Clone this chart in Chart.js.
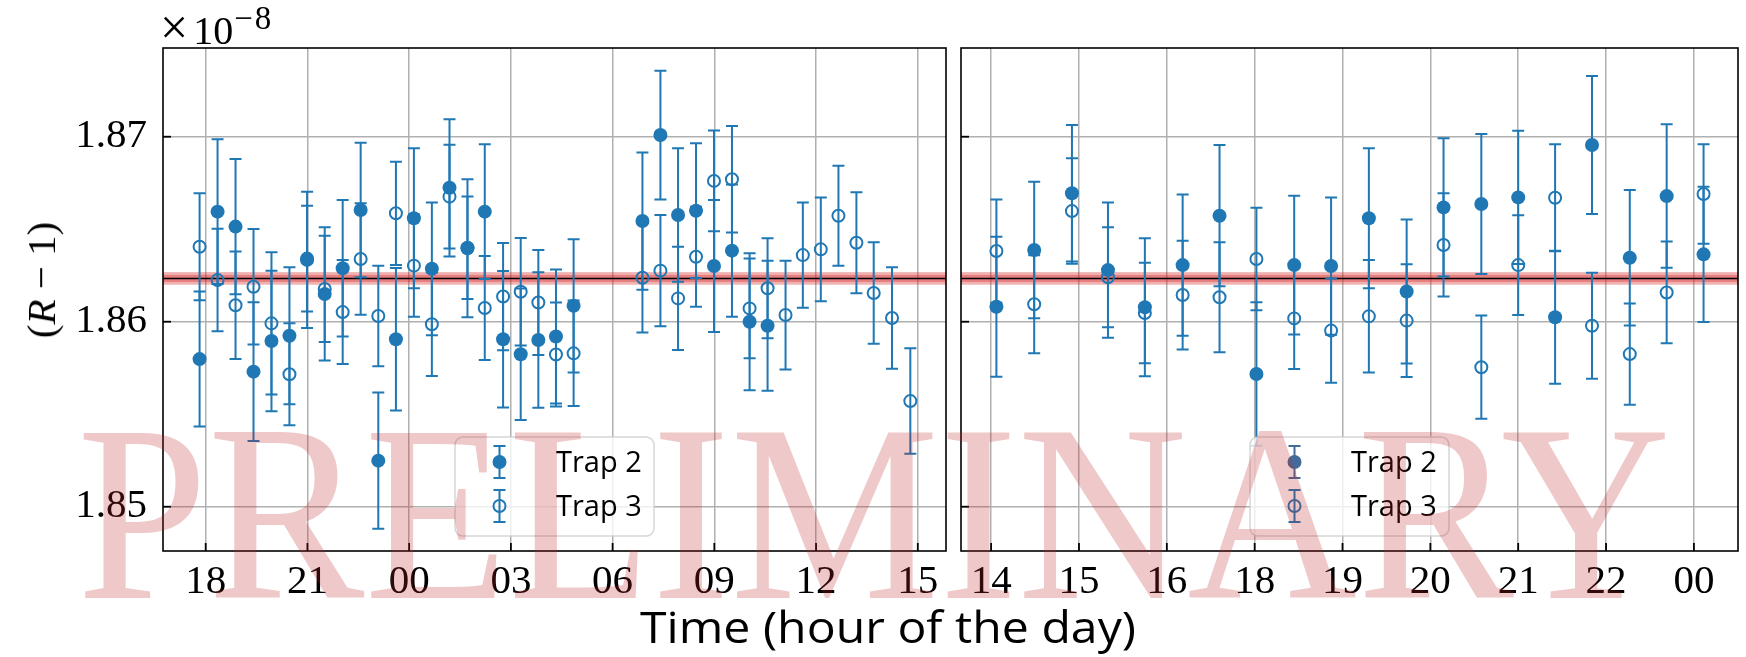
<!DOCTYPE html>
<html>
<head>
<meta charset="utf-8">
<script src="https://cdn.jsdelivr.net/npm/chart.js@4.4.1/dist/chart.umd.min.js"></script>
<style>
  html, body { margin: 0; padding: 0; background: #fff; }
  #wrap { position: relative; width: 1746px; height: 657px; overflow: hidden; }
  canvas { position: absolute; top: 0; }
  #left { left: 0; }
  #right { left: 953px; }
  .txt { position: absolute; left: 0; top: 0; white-space: nowrap; color: #000; line-height: 1; transform-origin: 0 0; }
  #mult { font: 40px 'Liberation Serif'; }
  #mult .x { font-size: 50px; margin-right: 5px; margin-left: -3px; }
  #mult sup { font-size: 33px; vertical-align: baseline; position: relative; top: -15px; margin-left: 1px; letter-spacing: 2px; }
  #ytitle { left: 41px; top: 280px; font: 41px 'Liberation Serif';
            transform: translate(-50%, -50%) rotate(-90deg); transform-origin: 50% 50%; }
  #xtitle { font: 44px 'Open Sans'; }
  #wm { font-family: 'Liberation Serif'; color: rgba(190, 40, 40, 0.25); z-index: 10; pointer-events: none; }
</style>
</head>
<body>
<div id="wrap">
  <canvas id="left" width="954" height="657"></canvas>
  <canvas id="right" width="793" height="657"></canvas>
  <div class="txt" id="mult"><span class="x">&times;</span>10<sup>&minus;8</sup></div>
  <div class="txt" id="ytitle">(<i>R</i> &minus; 1)</div>
  <div class="txt" id="xtitle">Time (hour of the day)</div>
  <div class="txt" id="wm">PRELIMINARY</div>
</div>
<script>
// left panel: hours since midnight of the first day (values > 24 are the next day)
var leftHours = [17.82, 18.35, 18.88, 19.41, 19.94, 20.47, 20.99, 21.51, 22.04, 22.57,
  23.09, 23.61, 24.14, 24.67, 25.19, 25.72, 26.23, 26.77, 27.29, 27.81,
  28.33, 28.85, 30.88, 31.41, 31.93, 32.46, 32.99, 33.52, 34.04, 34.57,
  35.10, 35.61, 36.14, 36.66, 37.19, 37.70, 38.24, 38.78];
var leftTrap2 = [1.85798, 1.86595, 1.86514, 1.85730, 1.85896, 1.85924, 1.86334, 1.86150, 1.86289, 1.86604,
  1.85249, 1.85905, 1.86559, 1.86286, 1.86724, 1.86397, 1.86595, 1.85905, 1.85824, 1.85901,
  1.85920, 1.86086, 1.86544, 1.87009, 1.86577, 1.86600, 1.86301, 1.86384, 1.86000, 1.85978,
  null, null, null, null, null, null, null, null];
var leftTrap2Err = [0.00365, 0.00391, 0.00366, 0.00375, 0.00380, 0.00370, 0.00368, 0.00360, 0.00369, 0.00364,
  0.00368, 0.00385, 0.00378, 0.00359, 0.00371, 0.00373, 0.00364, 0.00369, 0.00355, 0.00366,
  0.00362, 0.00360, 0.00371, 0.00348, 0.00361, 0.00364, 0.00357, 0.00357, 0.00370, 0.00351,
  null, null, null, null, null, null, null, null];
var leftTrap3 = [1.86405, 1.86225, 1.86089, 1.86189, 1.85991, 1.85716, 1.86341, 1.86177, 1.86052, 1.86339,
  1.86031, 1.86586, 1.86303, 1.85986, 1.86676, 1.86400, 1.86074, 1.86136, 1.86162, 1.86104,
  1.85823, 1.85829, 1.86238, 1.86276, 1.86126, 1.86351, 1.86761, 1.86770, 1.86072, 1.86181,
  1.86036, 1.86360, 1.86391, 1.86573, 1.86427, 1.86155, 1.86020, 1.85571];
var leftTrap3Err = [0.00289, 0.00277, 0.00290, 0.00312, 0.00384, 0.00276, 0.00286, 0.00287, 0.00281, 0.00301,
  0.00272, 0.00279, 0.00276, 0.00280, 0.00280, 0.00277, 0.00281, 0.00290, 0.00290, 0.00284,
  0.00281, 0.00285, 0.00296, 0.00301, 0.00279, 0.00270, 0.00272, 0.00288, 0.00270, 0.00270,
  0.00294, 0.00285, 0.00281, 0.00270, 0.00273, 0.00274, 0.00274, 0.00285];
var leftTickHours = [18, 21, 24, 27, 30, 33, 36, 39];
var leftTickLabels = ['18', '21', '00', '03', '06', '09', '12', '15'];

// right panel: positions counted in tick slots
var rightPos = [0.06, 0.49, 0.92, 1.33, 1.75, 2.18, 2.60, 3.02, 3.45, 3.87,
  4.30, 4.73, 5.15, 5.58, 6.00, 6.42, 6.84, 7.27, 7.69, 8.11];
var rightTrap2 = [1.86081, 1.86388, 1.86694, 1.86279, 1.86078, 1.86306, 1.86573, 1.85717, 1.86306, 1.86301,
  1.86559, 1.86163, 1.86618, 1.86636, 1.86672, 1.86024, 1.86955, 1.86346, 1.86679, 1.86364];
var rightTrap2Err = [0.00378, 0.00369, 0.00369, 0.00366, 0.00373, 0.00382, 0.00382, 0.00388, 0.00375, 0.00371,
  0.00378, 0.00389, 0.00373, 0.00378, 0.00360, 0.00360, 0.00373, 0.00366, 0.00388, 0.00365];
var rightTrap3 = [1.86382, 1.86094, 1.86598, 1.86240, 1.86047, 1.86144, 1.86132, 1.86339, 1.86018, 1.85952,
  1.86029, 1.86006, 1.86415, 1.85754, 1.86306, 1.86670, 1.85978, 1.85825, 1.86158, 1.86690];
var rightTrap3Err = [0.00279, 0.00265, 0.00285, 0.00270, 0.00272, 0.00294, 0.00297, 0.00277, 0.00274, 0.00282,
  0.00304, 0.00305, 0.00279, 0.00279, 0.00270, 0.00289, 0.00286, 0.00274, 0.00275, 0.00269];
var rightTickPos = [0, 1, 2, 3, 4, 5, 6, 7, 8];
var rightTickLabels = ['14', '15', '16', '18', '19', '20', '21', '22', '00'];

var yTicks = [1.85, 1.86, 1.87];
var refValue = 1.86234;
var refBandOuter = 0.00034;
var refBandInner = 0.00019;

var blue = '#1f77b4';

function pack(xs, ys, errs) {
  var data = [], errors = [];
  xs.forEach(function(x, i) {
    if (ys[i] !== null) {
      data.push({x: x, y: ys[i]});
      errors.push(errs[i]);
    }
  });
  return {data: data, errors: errors};
}

function drawErrMarker(ctx, x, y, filled, clr) {
  ctx.strokeStyle = clr;
  ctx.lineWidth = 2;
  ctx.beginPath();
  ctx.moveTo(x, y - 16); ctx.lineTo(x, y + 16);
  ctx.moveTo(x - 6, y - 16); ctx.lineTo(x + 6, y - 16);
  ctx.moveTo(x - 6, y + 16); ctx.lineTo(x + 6, y + 16);
  ctx.stroke();
  ctx.beginPath();
  if (filled) {
    ctx.fillStyle = clr;
    ctx.arc(x, y, 7, 0, Math.PI * 2);
    ctx.fill();
  } else {
    ctx.arc(x, y, 6, 0, Math.PI * 2);
    ctx.stroke();
  }
}

var panelPlugin = {
  id: 'panel',
  beforeDatasetsDraw: function(chart) {
    var ctx = chart.ctx, a = chart.chartArea, y = chart.scales.y;
    ctx.save();
    ctx.fillStyle = 'rgba(214, 39, 40, 0.36)';
    [refBandOuter, refBandInner].forEach(function(w) {
      var t = y.getPixelForValue(refValue + w), b = y.getPixelForValue(refValue - w);
      ctx.fillRect(a.left, t, a.right - a.left, b - t);
    });
    var yr = y.getPixelForValue(refValue);
    ctx.strokeStyle = '#000';
    ctx.lineWidth = 1.5;
    ctx.beginPath();
    ctx.moveTo(a.left, yr); ctx.lineTo(a.right, yr);
    ctx.stroke();
    ctx.restore();
  },
  beforeDatasetDraw: function(chart, args) {
    var ds = chart.data.datasets[args.index];
    if (!ds.errors) return;
    var ctx = chart.ctx, x = chart.scales.x, y = chart.scales.y;
    ctx.save();
    ctx.strokeStyle = blue;
    ctx.lineWidth = 2;
    ds.data.forEach(function(p, i) {
      var px = x.getPixelForValue(p.x);
      var top = y.getPixelForValue(p.y + ds.errors[i]);
      var bot = y.getPixelForValue(p.y - ds.errors[i]);
      ctx.beginPath();
      ctx.moveTo(px, top); ctx.lineTo(px, bot);
      ctx.moveTo(px - 6, top); ctx.lineTo(px + 6, top);
      ctx.moveTo(px - 6, bot); ctx.lineTo(px + 6, bot);
      ctx.stroke();
    });
    ctx.restore();
  },
  afterDatasetsDraw: function(chart) {
    // legend box, lower centre
    var ctx = chart.ctx, a = chart.chartArea;
    var w = 199, h = 99;
    var x0 = (a.left + a.right) / 2 - w / 2, y0 = a.bottom - 15 - h;
    // the right-hand legend has its filled marker a shade darker in the original
    var trap2Clr = chart.canvas.id === 'right' ? '#446a99' : blue;
    ctx.save();
    ctx.beginPath();
    ctx.roundRect(x0, y0, w, h, 8);
    ctx.fillStyle = 'rgba(255, 255, 255, 0.8)';
    ctx.fill();
    ctx.strokeStyle = 'rgba(204, 204, 204, 0.8)';
    ctx.lineWidth = 1.5;
    ctx.stroke();
    chart.data.datasets.forEach(function(ds, i) {
      var ry = y0 + 25 + i * 44;
      drawErrMarker(ctx, x0 + 44.5, ry, i === 0, i === 0 ? trap2Clr : blue);
      ctx.fillStyle = '#000';
      ctx.font = '29px "Open Sans"';
      ctx.textBaseline = 'alphabetic';
      ctx.fillText(ds.label, x0 + 101, ry + 10);
    });
    ctx.restore();
  },
  afterDraw: function(chart) {
    // frame and inward ticks
    var ctx = chart.ctx, a = chart.chartArea;
    ctx.save();
    ctx.strokeStyle = '#000';
    ctx.lineWidth = 1.8;
    chart.scales.x.ticks.forEach(function(t) {
      var px = chart.scales.x.getPixelForValue(t.value);
      ctx.beginPath();
      ctx.moveTo(px, a.bottom); ctx.lineTo(px, a.bottom - 8);
      ctx.stroke();
    });
    chart.scales.y.ticks.forEach(function(t) {
      var py = chart.scales.y.getPixelForValue(t.value);
      ctx.beginPath();
      ctx.moveTo(a.left, py); ctx.lineTo(a.left + 8, py);
      ctx.stroke();
    });
    ctx.lineWidth = 1.6;
    ctx.strokeRect(a.left, a.top, a.right - a.left, a.bottom - a.top);
    ctx.restore();
  }
};

function makePanel(canvasId, xMin, xMax, tickVals, tickLabels, trap2, trap3, yWidth, padRight) {
  var ctx = document.getElementById(canvasId).getContext('2d');
  return new Chart(ctx, {
    type: 'scatter',
    data: {
      datasets: [
        {
          label: 'Trap 2',
          data: trap2.data,
          errors: trap2.errors,
          order: 1,
          pointRadius: 7,
          pointBorderWidth: 0,
          backgroundColor: blue,
          borderColor: blue
        },
        {
          label: 'Trap 3',
          data: trap3.data,
          errors: trap3.errors,
          order: 0,
          pointRadius: 6,
          pointBorderWidth: 2,
          backgroundColor: 'rgba(0,0,0,0)',
          borderColor: blue
        }
      ]
    },
    options: {
      responsive: false,
      animation: false,
      devicePixelRatio: 1,
      events: [],
      layout: { padding: { top: 48, right: padRight, bottom: 0, left: 0 } },
      scales: {
        x: {
          type: 'linear',
          min: xMin,
          max: xMax,
          afterBuildTicks: function(s) {
            s.ticks = tickVals.map(function(v) { return {value: v}; });
          },
          afterFit: function(s) { s.height = 106; },
          grid: { color: '#b0b0b0', lineWidth: 1.5, drawTicks: false },
          border: { display: false },
          ticks: {
            autoSkip: false,
            maxRotation: 0,
            padding: 7,
            color: '#000',
            font: { family: 'Liberation Serif', size: 41 },
            callback: function(v) { return tickLabels[tickVals.indexOf(v)]; }
          }
        },
        y: {
          type: 'linear',
          min: 1.847606,
          max: 1.874795,
          afterBuildTicks: function(s) {
            s.ticks = yTicks.map(function(v) { return {value: v}; });
          },
          afterFit: function(s) { s.width = yWidth; },
          grid: { color: '#b0b0b0', lineWidth: 1.5, drawTicks: false },
          border: { display: false },
          ticks: {
            display: yWidth > 10,
            padding: 16,
            color: '#000',
            font: { family: 'Liberation Serif', size: 41 },
            callback: function(v) { return v.toFixed(2); }
          }
        }
      },
      plugins: {
        legend: { display: false },
        tooltip: { enabled: false }
      }
    },
    plugins: [panelPlugin]
  });
}

makePanel('left', 16.741, 39.832, leftTickHours, leftTickLabels,
  pack(leftHours, leftTrap2, leftTrap2Err), pack(leftHours, leftTrap3, leftTrap3Err), 163, 2);
makePanel('right', -0.343, 8.502, rightTickPos, rightTickLabels,
  pack(rightPos, rightTrap2, rightTrap2Err), pack(rightPos, rightTrap3, rightTrap3Err), 2, 4);

// put an html text box so that its baseline sits at y, optionally squeezed to a width
function placeText(id, left, baseline, width) {
  var el = document.getElementById(id);
  var mark = document.createElement('span');
  mark.style.display = 'inline-block';
  mark.style.width = '0';
  mark.style.height = '0';
  el.appendChild(mark);
  var r = el.getBoundingClientRect();
  var off = mark.getBoundingClientRect().top - r.top;
  el.style.left = left + 'px';
  el.style.top = (baseline - off) + 'px';
  if (width) el.style.transform = 'scaleX(' + (width / r.width) + ')';
}

placeText('mult', 163, 43.5);
placeText('xtitle', 888 - 248, 643, 496);

// watermark: cap height 166 px, ink from x=84 to x=1666, baseline at 598
var mc = document.createElement('canvas').getContext('2d');
mc.font = '100px "Liberation Serif"';
var wmSize = 100 * 166 / mc.measureText('PRELIMINARY').actualBoundingBoxAscent;
mc.font = wmSize + 'px "Liberation Serif"';
var wmM = mc.measureText('PRELIMINARY');
var wmSx = 1582 / (wmM.actualBoundingBoxLeft + wmM.actualBoundingBoxRight);
var wm = document.getElementById('wm');
wm.style.fontSize = wmSize + 'px';
placeText('wm', 84 + wmM.actualBoundingBoxLeft * wmSx, 598);
wm.style.transform = 'scaleX(' + wmSx + ')';
</script>
</body>
</html>
